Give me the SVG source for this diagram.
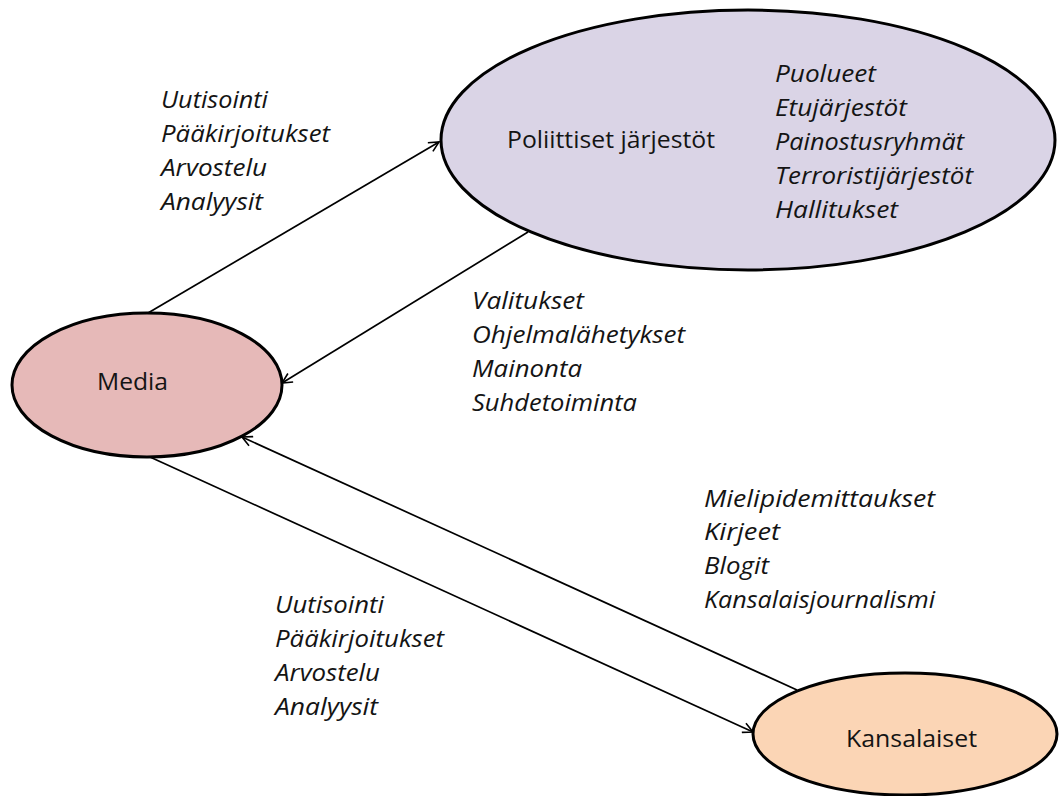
<svg xmlns="http://www.w3.org/2000/svg" width="1059" height="796" viewBox="0 0 1059 796">
<defs>
<marker id="arr" viewBox="0 0 12 12" refX="11" refY="6" markerWidth="12" markerHeight="12" markerUnits="userSpaceOnUse" orient="auto">
<path d="M1,1 L11,6 L1,11" fill="none" stroke="#000" stroke-width="1.6"/>
</marker>
</defs>
<style>
.node{stroke:#000;stroke-width:3}
.lbl{font-family:"Open Sans","Noto Sans","Liberation Sans",sans-serif;font-size:24px;fill:#141414}
.it{font-family:"Open Sans","Noto Sans","Liberation Sans",sans-serif;font-size:24px;font-style:italic;fill:#141414}
.con{stroke:#000;stroke-width:1.7;fill:none;marker-end:url(#arr)}
</style>
<rect width="1059" height="796" fill="#fff"/>
<g id="connectors">
<line class="con" x1="148" y1="313" x2="439" y2="142"/>
<line class="con" x1="528" y1="232" x2="282" y2="383"/>
<line class="con" x1="797" y1="690" x2="242" y2="437"/>
<line class="con" x1="150" y1="457" x2="753" y2="732"/>
</g>
<g id="media">
<ellipse class="node" cx="147" cy="385" rx="135" ry="72" fill="#e6b9b8"/>
<text class="lbl" x="97" y="390" textLength="71" lengthAdjust="spacingAndGlyphs">Media</text>
</g>
<g id="poliittiset">
<ellipse class="node" cx="748" cy="140" rx="307" ry="130" fill="#dad4e6"/>
<text class="lbl" x="507" y="148" textLength="208" lengthAdjust="spacingAndGlyphs">Poliittiset järjestöt</text>
<text class="it" x="775" y="82" textLength="101" lengthAdjust="spacingAndGlyphs">Puolueet</text>
<text class="it" x="775" y="116" textLength="132" lengthAdjust="spacingAndGlyphs">Etujärjestöt</text>
<text class="it" x="775" y="150" textLength="189" lengthAdjust="spacingAndGlyphs">Painostusryhmät</text>
<text class="it" x="775" y="184" textLength="198" lengthAdjust="spacingAndGlyphs">Terroristijärjestöt</text>
<text class="it" x="775" y="218" textLength="123" lengthAdjust="spacingAndGlyphs">Hallitukset</text>
</g>
<g id="kansalaiset">
<ellipse class="node" cx="905" cy="734" rx="152" ry="61" fill="#fbd5b5"/>
<text class="lbl" x="846" y="747" textLength="131" lengthAdjust="spacingAndGlyphs">Kansalaiset</text>
</g>
<g id="label-media-poliittiset">
<text class="it" x="161" y="108" textLength="107" lengthAdjust="spacingAndGlyphs">Uutisointi</text>
<text class="it" x="161" y="142" textLength="169" lengthAdjust="spacingAndGlyphs">Pääkirjoitukset</text>
<text class="it" x="161" y="176" textLength="106" lengthAdjust="spacingAndGlyphs">Arvostelu</text>
<text class="it" x="161" y="210" textLength="102" lengthAdjust="spacingAndGlyphs">Analyysit</text>
</g>
<g id="label-poliittiset-media">
<text class="it" x="472" y="309" textLength="112" lengthAdjust="spacingAndGlyphs">Valitukset</text>
<text class="it" x="472" y="343" textLength="213" lengthAdjust="spacingAndGlyphs">Ohjelmalähetykset</text>
<text class="it" x="472" y="377" textLength="110" lengthAdjust="spacingAndGlyphs">Mainonta</text>
<text class="it" x="472" y="411" textLength="165" lengthAdjust="spacingAndGlyphs">Suhdetoiminta</text>
</g>
<g id="label-kansalaiset-media">
<text class="it" x="704" y="507" textLength="231" lengthAdjust="spacingAndGlyphs">Mielipidemittaukset</text>
<text class="it" x="704" y="540" textLength="76" lengthAdjust="spacingAndGlyphs">Kirjeet</text>
<text class="it" x="704" y="574" textLength="65" lengthAdjust="spacingAndGlyphs">Blogit</text>
<text class="it" x="704" y="608" textLength="231" lengthAdjust="spacingAndGlyphs">Kansalaisjournalismi</text>
</g>
<g id="label-media-kansalaiset">
<text class="it" x="275" y="613" textLength="109" lengthAdjust="spacingAndGlyphs">Uutisointi</text>
<text class="it" x="275" y="647" textLength="169" lengthAdjust="spacingAndGlyphs">Pääkirjoitukset</text>
<text class="it" x="275" y="681" textLength="105" lengthAdjust="spacingAndGlyphs">Arvostelu</text>
<text class="it" x="275" y="715" textLength="103" lengthAdjust="spacingAndGlyphs">Analyysit</text>
</g>
</svg>
